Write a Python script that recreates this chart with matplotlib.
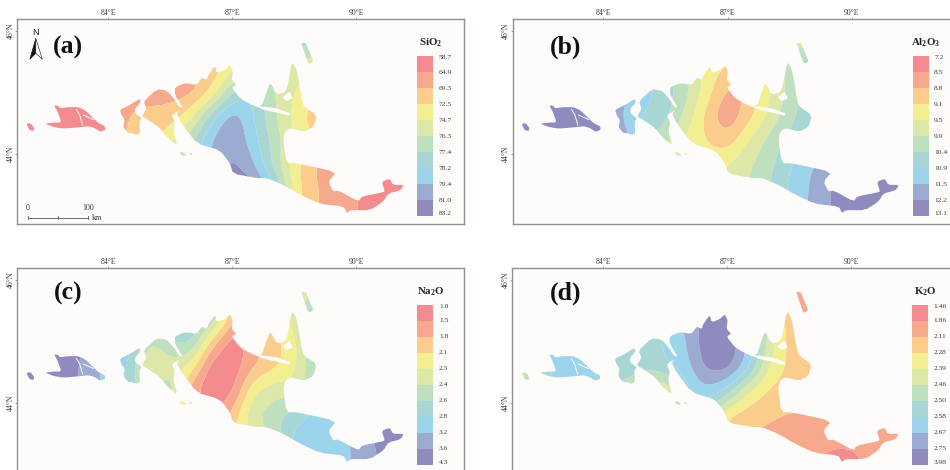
import numpy as np
import matplotlib
matplotlib.use('Agg')
import matplotlib.pyplot as plt
from matplotlib.path import Path
from matplotlib.patches import PathPatch, Polygon

plt.rcParams['font.family'] = ['Liberation Serif', 'DejaVu Serif']
plt.rcParams['mathtext.fontset'] = 'custom'
plt.rcParams['mathtext.bf'] = 'Liberation Serif:bold'
plt.rcParams['mathtext.rm'] = 'Liberation Serif'

# ---------- class colours and legends ----------
colors = ['#F48B8E', '#F6A98D', '#FBCD8C', '#F3EE8F', '#DCE7A8',
          '#BFE0BF', '#A8D6D5', '#9CD4EC', '#9CABD2', '#8F8BBE']
sio2_labels = ['58.7', '64.9', '69.3', '72.5', '74.7', '76.3', '77.4', '78.2', '79.4', '81.0', '83.2']
al2o3_labels = ['7.2', '8.5', '8.8', '9.1', '9.5', '9.9', '10.4', '10.9', '11.5', '12.2', '13.1']
na2o_labels = ['1.0', '1.5', '1.8', '2.1', '2.3', '2.4', '2.6', '2.8', '3.2', '3.6', '4.3']
k2o_labels = ['1.46', '1.86', '2.11', '2.28', '2.39', '2.46', '2.50', '2.58', '2.67', '2.75', '3.98']
lon_ticks = [84, 87, 90]
lat_ticks = [44, 46]
scale_km = [0, 50, 100]

# ---------- map outline (lon, lat) ----------
ellipse = [(82.02, 44.49), (82.12, 44.50), (82.21, 44.42), (82.19, 44.37), (82.09, 44.39)]
west_island = [(82.69, 44.79), (82.79, 44.78), (82.83, 44.74), (83.03, 44.76), (83.27, 44.76), (83.44, 44.71),
               (83.64, 44.58), (83.76, 44.50), (83.92, 44.45), (83.93, 44.39), (83.80, 44.36), (83.68, 44.42),
               (83.52, 44.45), (83.40, 44.44), (82.91, 44.41), (82.67, 44.44), (82.47, 44.49), (82.67, 44.51),
               (82.87, 44.51), (82.77, 44.69)]
piece_a = [(84.28, 44.72), (84.48, 44.78), (84.77, 44.90), (84.77, 44.82), (84.65, 44.74), (84.65, 44.66),
           (84.81, 44.58), (84.75, 44.52), (84.77, 44.34), (84.69, 44.31), (84.56, 44.34), (84.48, 44.34),
           (84.36, 44.44), (84.40, 44.55), (84.32, 44.63)]
piece_b = [(84.85, 44.85), (85.17, 45.05), (85.41, 45.03), (85.61, 44.88), (85.69, 44.78), (85.86, 44.71),
           (85.73, 44.71), (85.53, 44.63), (85.61, 44.52), (85.57, 44.36), (85.67, 44.14), (85.45, 44.25),
           (85.25, 44.42), (84.97, 44.55), (84.81, 44.61), (84.93, 44.74)]
main_body = [(85.61, 45.08), (85.85, 45.15), (86.14, 45.12), (86.26, 45.24), (86.38, 45.20), (86.42, 45.28),
             (86.58, 45.43), (86.62, 45.31), (86.82, 45.36), (86.94, 45.44), (87.01, 45.34), (86.98, 45.20),
             (87.10, 45.12), (86.98, 45.08), (87.19, 44.90), (87.51, 44.78), (87.71, 44.78), (87.79, 44.93),
             (87.91, 45.17), (88.07, 44.96), (88.31, 45.01), (88.44, 45.50), (88.56, 45.36), (88.68, 44.88),
             (88.73, 44.77), (89.04, 44.63), (88.96, 44.44), (88.73, 44.36), (88.40, 44.42), (88.27, 44.36),
             (88.23, 44.23), (88.31, 43.85), (88.56, 43.85), (89.52, 43.71), (89.32, 43.55), (89.44, 43.39),
             (89.56, 43.41), (90.05, 43.23), (90.13, 43.31), (90.57, 43.37), (90.69, 43.39), (90.61, 43.55),
             (90.81, 43.60), (90.88, 43.50), (91.15, 43.50), (91.06, 43.41), (90.77, 43.36), (90.65, 43.23),
             (90.33, 43.09), (89.85, 43.09), (89.77, 43.04), (89.69, 43.15), (89.12, 43.19), (88.64, 43.34),
             (88.23, 43.50), (87.83, 43.61), (87.59, 43.61), (87.02, 43.68), (86.94, 43.85), (86.70, 44.06),
             (86.14, 44.17), (85.77, 44.50), (85.65, 44.66), (85.81, 44.74), (85.61, 44.96)]
ne_tip = [(88.66, 45.82), (88.76, 45.82), (88.88, 45.63), (88.96, 45.50), (88.84, 45.46), (88.76, 45.61)]
islet_1 = [(85.73, 44.04), (85.85, 44.01), (85.88, 43.97), (85.76, 43.98)]
islet_2 = [(85.94, 44.02), (86.04, 44.00), (85.99, 43.98)]
slit = [(87.51, 44.79), (88.07, 44.74), (88.40, 44.66), (88.38, 44.62), (88.07, 44.67), (87.75, 44.72)]
lake = [(88.21, 44.92), (88.38, 45.01), (88.46, 44.90), (88.31, 44.86)]
channel_1 = [(83.23, 44.72), (83.31, 44.63), (83.38, 44.47)]
channel_2 = [(83.40, 44.63), (83.64, 44.56)]
land_parts = [ellipse, west_island, piece_a, piece_b, main_body, ne_tip, islet_1, islet_2]

# ---------- class position of each field on a lon/lat grid ----------
grid_lon = [82, 82.5, 83, 83.5, 84, 84.5, 85, 85.5, 86, 86.5, 87, 87.5, 88, 88.5, 89, 89.5, 90, 90.5, 91, 91.5]
grid_lat = [45.8, 45.4, 45.0, 44.6, 44.2, 43.8, 43.4, 43.0]

sio2_field = [
    [.5, .5, .5, .5, 1, 1.5, 1.5, 1.5, 1.5, 2, 3, 4, 5, 6.8, 6, 4, 3, 2, 1, .5],
    [.5, .5, .5, .5, 1, 1.5, 1.5, 1.5, 1.6, 2.2, 3.6, 4, 4.5, 4.7, 4, 3, 2.5, 2, 1, .5],
    [.5, .5, .5, .5, 1, 1.5, 1.5, 1.5, 1.6, 3, 6.2, 7, 5, 4, 3, 2.5, 2, 1.5, 1, .5],
    [.5, .5, .5, .5, .6, 2.1, 2.4, 2.5, 3.6, 6.8, 8.8, 7.1, 5.2, 3.7, 2.3, 2, 1.8, 1.5, 1, .5],
    [.5, .5, .5, .5, .8, 2.5, 2.9, 3.6, 6, 8.3, 9, 7.5, 5.6, 4, 3, 2, 1.6, 1, .7, .5],
    [.5, .5, .5, .5, 1, 2.5, 3, 5, 6, 8, 9.3, 8.3, 5.7, 3.3, 1.8, 1.4, .9, .5, .5, .5],
    [.5, .5, .5, .5, 1, 2.5, 3, 5, 6, 9, 9.9, 9.9, 7.7, 3.5, 2.1, 1.5, 1.1, .5, .5, .5],
    [.5, .5, .5, .5, 1, 2.5, 3, 5, 6, 9, 9.9, 9.9, 7.5, 3, 2, 1.5, 1, .5, .5, .5],
]
al2o3_field = [
    [9.5, 9.5, 9.5, 9.5, 9.5, 8.5, 8, 7, 5.5, 4, 3, 3, 3.5, 4.5, 4.5, 6, 8, 9, 9.5, 9.5],
    [9.5, 9.5, 9.5, 9.5, 9.5, 8, 7.6, 6.5, 5.3, 3.5, 3, 3, 3.5, 5.5, 7.2, 7, 8, 9, 9.5, 9.5],
    [9.5, 9.5, 9.5, 9.5, 9.5, 8.2, 7.3, 6.5, 5.3, 3.5, 1.6, 2, 3.9, 5.3, 6.5, 7, 8, 9, 9.5, 9.5],
    [9.5, 9.5, 9.5, 9.5, 9.5, 7.7, 6.9, 6.4, 4.7, 2.5, 1.05, 2.6, 4.2, 5.8, 6.7, 7.2, 8, 9, 9.5, 9.5],
    [9.5, 9.5, 9.5, 9.5, 9.5, 8.7, 6.3, 5, 3.6, 3, 2.4, 4.1, 5.4, 6.3, 6.6, 7.5, 8.5, 9.4, 9.5, 9.5],
    [9.5, 9.5, 9.5, 9.5, 9.5, 8.7, 6, 4.7, 4.5, 3.5, 4.2, 4.9, 5.7, 7, 7.9, 9, 9.4, 9.5, 9.5, 9.5],
    [9.5, 9.5, 9.5, 9.5, 9.5, 8.7, 6, 4.7, 4.5, 3.5, 4.2, 5, 6, 7.2, 8.1, 9.1, 9.5, 9.5, 9.5, 9.5],
    [9.5, 9.5, 9.5, 9.5, 9.5, 8.7, 6, 4.7, 4.5, 3.5, 4.2, 5, 6, 7.2, 8.1, 9.1, 9.5, 9.5, 9.5, 9.5],
]
na2o_field = [
    [9.5, 9.5, 9.5, 9.5, 8, 7.6, 6, 7, 7.5, 6.5, 2, 3, 3, 4.2, 5, 7, 8, 9.2, 9.5, 9.5],
    [9.5, 9.5, 9.5, 9, 8, 7.6, 6, 7, 7.5, 6.5, 2.1, 2, 3, 4.5, 6.5, 7, 8, 9.2, 9.5, 9.5],
    [9.5, 9.5, 9.5, 9, 7.6, 7.6, 5, 6, 6.5, 2.5, .2, 1.5, 2.5, 3.8, 5.5, 7, 8, 9.2, 9.5, 9.5],
    [9.5, 9.5, 9.5, 8.6, 7.6, 7.2, 3.2, 4.6, 3.8, .2, .2, 1.8, 2.7, 3.5, 6.4, 7, 8, 9.2, 9.5, 9.5],
    [9.5, 9.5, 9.5, 8.6, 7.6, 6.6, 5, 6.3, .9, .2, .6, 3.9, 4.6, 4.6, 5.4, 7, 8.2, 9.3, 9.5, 9.5],
    [9.5, 9.5, 9.5, 8.6, 7.6, 6.6, 5, 3.6, 3.4, .3, 2.4, 4.9, 5.6, 6.6, 7.5, 7.7, 8.5, 9.3, 9.5, 9.5],
    [9.5, 9.5, 9.5, 8.6, 7.6, 6.6, 5, 3.6, 3.4, .5, 3, 4, 5.3, 7.5, 7.5, 7.5, 8.2, 9.2, 9.5, 9.5],
    [9.5, 9.5, 9.5, 8.6, 7.6, 6.6, 5, 3.6, 3.4, .5, 3, 4, 5.3, 7.5, 7.5, 7.5, 8.2, 9, 9.5, 9.5],
]
k2o_field = [
    [4.5, 6, 7, 8, 7, 7.4, 6.6, 7, 8.2, 9.4, 9.8, 9.2, 5, 1.5, 1.5, 1.5, 1.5, 1.5, 1.5, 1.5],
    [4.5, 6, 7.5, 8.5, 7.2, 7.4, 6.6, 7, 8.3, 9.4, 9.8, 9.2, 5, 2.3, 1.3, 1.5, 1.5, 1.5, 1.5, 1.5],
    [4.5, 6, 8.5, 8.6, 7, 7.4, 6.6, 7.1, 7.9, 9.8, 9.9, 8, 4.6, 2.6, 2.5, 2, 1.5, 1.5, 1.5, 1.5],
    [4.5, 6.5, 7.5, 7.3, 6.8, 6.9, 6.1, 7, 7.6, 9.4, 9.7, 7.6, 4, 2.7, 2.5, 2, 1.5, 1.5, 1.5, 1.5],
    [4.5, 6.5, 7.5, 7.3, 6.8, 5.2, 5, 3.5, 6.8, 7.9, 6.8, 3.9, 2.8, 2.5, 2.4, 2, 1.5, 1.5, 1.5, 1.5],
    [4.5, 6.5, 7, 7, 6.5, 5, 4.5, 4, 5, 6, 2.7, 2.4, 2.2, 1.9, 2, 2.05, 1.5, 1.5, 1.5, 1.5],
    [4.5, 6.5, 7, 7, 6.5, 5, 4.5, 4, 5, 6, 2.5, 2.2, 1.5, 1.5, 1.5, 1.4, 1.4, 1.5, 1.5, 1.5],
    [4.5, 6.5, 7, 7, 6.5, 5, 4.5, 4, 5, 6, 2.5, 2, 1.5, 1.5, 1.5, .3, .3, 1.6, 1.5, 1.5],
]

# ---------- layout (pixels of the 950x470 canvas) ----------
W, H = 950, 470
BG = '#FDFCFB'
FRAME = '#948F88'
TXT = '#3A3A3A'

fig = plt.figure(figsize=(W / 100, H / 100), dpi=100, facecolor='white')


def chaikin(part, w=0.18):
    out = []
    n = len(part)
    for i in range(n):
        p, q = np.array(part[i]), np.array(part[(i + 1) % n])
        out.append(tuple(p + w * (q - p)))
        out.append(tuple(q - w * (q - p)))
    return out


def land_path(parts):
    verts, codes = [], []
    for part in parts:
        part = chaikin(part)
        verts += list(part) + [part[0]]
        codes += [Path.MOVETO] + [Path.LINETO] * (len(part) - 1) + [Path.CLOSEPOLY]
    return Path(verts, codes)


def fine_field(field, factor=8, sigma=2.6):
    """Round the hand-read grid so that band edges become smooth curves."""
    z = np.array(field, dtype=float)
    r = np.arange(z.shape[0])
    c = np.arange(z.shape[1])
    rf = np.linspace(0, r[-1], (len(r) - 1) * factor + 1)
    cf = np.linspace(0, c[-1], (len(c) - 1) * factor + 1)
    z = np.array([np.interp(cf, c, row) for row in z])
    z = np.array([np.interp(rf, r, col) for col in z.T]).T
    half = int(3 * sigma)
    kernel = np.exp(-0.5 * (np.arange(-half, half + 1) / sigma) ** 2)
    kernel /= kernel.sum()
    for axis in (0, 1):
        pad = [(0, 0), (0, 0)]
        pad[axis] = (half, half)
        z = np.apply_along_axis(lambda v: np.convolve(v, kernel, mode='valid'), axis, np.pad(z, pad, mode='edge'))
    lons = np.interp(cf, c, grid_lon)
    lats = np.interp(rf, r, grid_lat)
    return lons, lats, z


def draw_panel(left, top, letter, letter_px, title, field, labels):
    ax = fig.add_axes([left / W, 1 - (top + 204.7) / H, 446.7 / W, 204.7 / H])
    ax.set_facecolor(BG)
    ax.set_xlim(81.80, 92.60)
    ax.set_ylim(42.865, 46.184)
    patch = PathPatch(land_path(land_parts), transform=ax.transData, fc='none', ec='none')
    ax.add_patch(patch)
    lons, lats, z = fine_field(field)
    cs = ax.contourf(lons, lats, z, levels=np.arange(11), colors=colors, antialiased=True)
    cs.set_clip_path(patch)
    for hole in (slit, lake):
        ax.add_patch(Polygon(hole, closed=True, fc=BG, ec='none', zorder=3))
    for ch in (channel_1, channel_2):
        ax.plot([p[0] for p in ch], [p[1] for p in ch], color=BG, lw=0.7, zorder=3)

    ax.xaxis.tick_top()
    ax.set_xticks(lon_ticks)
    ax.set_xticklabels([f'{v}°E' for v in lon_ticks], fontsize=5.6, color=TXT)
    ax.set_yticks(lat_ticks)
    ax.set_yticklabels([f'{v}°N' for v in lat_ticks], fontsize=5.6, color=TXT, rotation=90, va='center')
    ax.tick_params(length=1.5, width=0.6, color=FRAME, pad=0.3)
    for sp in ax.spines.values():
        sp.set_color(FRAME)
        sp.set_linewidth(1.0)

    # panel letter
    ax.text(letter_px[0] / 446.7, 1 - letter_px[1] / 204.7, letter, transform=ax.transAxes,
            fontsize=18.5, fontweight='bold', ha='center', va='center', color='#111111')

    # legend
    lg = ax.inset_axes([400 / 446.7, 8 / 204.7, 16 / 446.7, 160 / 204.7])
    lg.barh(np.arange(10) + 0.5, np.ones(10), height=1.0, color=colors, lw=0)
    lg.set_xlim(0, 1)
    lg.set_ylim(10, 0)
    lg.axis('off')
    label_pos = np.arange(11, dtype=float)
    label_pos[0] = 0.08
    label_pos[-1] = 9.83
    for p, lab in zip(label_pos, labels):
        lg.text(1.35, p, lab, fontsize=5.4, va='center', ha='left', color=TXT)
    ax.text(413.5 / 446.7, 1 - 23 / 204.7, title, transform=ax.transAxes, fontsize=7.8,
            ha='center', va='center', color='#222222')
    return ax


ax_a = draw_panel(17.3, 19.3, '(a)', (50.5, 28), r'$\mathbf{SiO_2}$', sio2_field, sio2_labels)
ax_b = draw_panel(512.5, 19.3, '(b)', (53.5, 28), r'$\mathbf{Al_2O_3}$', al2o3_field, al2o3_labels)
ax_c = draw_panel(17.3, 268.3, '(c)', (50.5, 25), r'$\mathbf{Na_2O}$', na2o_field, na2o_labels)
ax_d = draw_panel(512.2, 268.3, '(d)', (53.5, 25), r'$\mathbf{K_2O}$', k2o_field, k2o_labels)


# north arrow (panel a, axes pixels measured from the top-left corner)
def ax_px(x, y):
    return (x / 446.7, 1 - y / 204.7)


ax_a.add_patch(Polygon([ax_px(18.5, 19), ax_px(12.5, 40), ax_px(18.5, 34)], closed=True, fc='#111111', ec='#111111',
                       lw=0.4, transform=ax_a.transAxes, zorder=5))
ax_a.add_patch(Polygon([ax_px(18.5, 19), ax_px(25, 40), ax_px(18.5, 34)], closed=True, fc='white', ec='#111111',
                       lw=0.4, transform=ax_a.transAxes, zorder=5))
ax_a.text(*ax_px(18.5, 13), 'N', transform=ax_a.transAxes, fontsize=6.5, ha='center', va='center',
          family=['Liberation Sans', 'DejaVu Sans'], color='#111111')

# scale bar
km_to_lon = 1.46 / 100
bar_lon0, bar_lat = 82.05, 42.97
xs = [bar_lon0 + km * km_to_lon for km in scale_km]
ax_a.plot([xs[0], xs[-1]], [bar_lat, bar_lat], color='#555555', lw=0.6, zorder=5)
for xv in xs:
    ax_a.plot([xv, xv], [bar_lat - 0.02, bar_lat + 0.02], color='#555555', lw=0.6, zorder=5)
for xv, km in ((xs[0], scale_km[0]), (xs[-1], scale_km[-1])):
    ax_a.text(xv, bar_lat + 0.09, str(km), fontsize=5.8, ha='center', va='bottom', color=TXT)
ax_a.text(xs[-1] + 0.1, bar_lat - 0.01, 'km', fontsize=5.8, ha='left', va='center', color=TXT)

fig.savefig('out.png', dpi=100, facecolor='white')
